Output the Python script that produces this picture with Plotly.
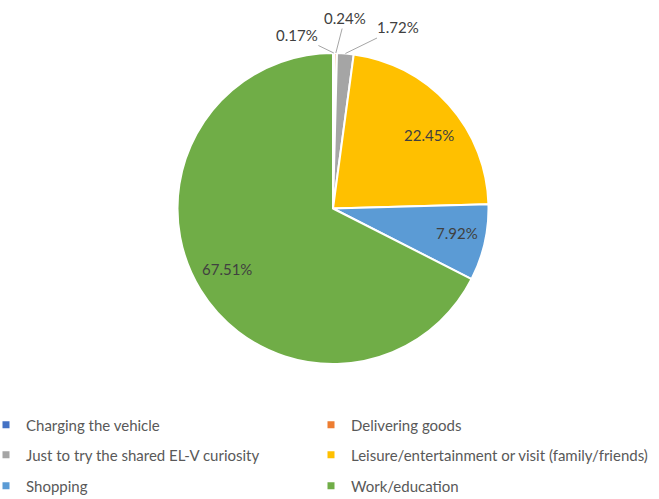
import math
import plotly.graph_objects as go

categories = [
    "Charging the vehicle",
    "Delivering goods",
    "Just to try the shared EL-V curiosity",
    "Leisure/entertainment or visit (family/friends)",
    "Shopping",
    "Work/education",
]
values = [0.17, 0.24, 1.72, 22.45, 7.92, 67.51]
colors = ["#4472C4", "#ED7D31", "#A5A5A5", "#FFC000", "#5B9BD5", "#70AD47"]

# label styling: inside labels placed along (mid-angle + shift) at a fraction of the radius;
# outside labels drawn with leader lines using pixel offsets
label_inside = [False, False, False, True, True, True]
label_radius = [1.0, 1.0, 1.0, 0.776, 0.813, 0.785]
label_angle_shift = [0, 0, 0, 4.6, -1.5, 1.8]
label_offset = [(-37, -18), (9, -35), (53, -26), (0, 0), (0, 0), (0, 0)]

W, H = 659, 499
MB = 100  # bottom margin holding the legend
PH = H - MB  # plot-area height
cx, cy, r = 333, 208.5, 155.5


def px_to_paper(px, py):
    return px / W, (PH - py) / PH


fig = go.Figure()
fig.add_trace(go.Pie(
    labels=categories,
    values=values,
    sort=False,
    direction="clockwise",
    rotation=0,
    marker=dict(colors=colors, line=dict(color="white", width=2)),
    textinfo="none",
    domain=dict(x=[(cx - r) / W, (cx + r) / W],
                y=[(PH - (cy + r)) / PH, (PH - (cy - r)) / PH]),
    showlegend=False,
    hoverinfo="label+percent",
))

# data labels, positioned from the slice angles
total = sum(values)
cum = 0.0
for v, inside, rf, sh, (ox, oy) in zip(values, label_inside, label_radius,
                                       label_angle_shift, label_offset):
    theta = (cum + v / 2) / total * 2 * math.pi + math.radians(sh)
    cum += v
    px = cx + rf * r * math.sin(theta)
    py = cy - rf * r * math.cos(theta)
    x, y = px_to_paper(px, py)
    if inside:
        fig.add_annotation(x=x, y=y, xref="paper", yref="paper", text=f"{v:.2f}%",
                           showarrow=False, xanchor="center", yanchor="middle",
                           font=dict(family="Lato", size=15, color="#404040"))
    else:
        fig.add_annotation(x=x, y=y, xref="paper", yref="paper", text=f"{v:.2f}%",
                           showarrow=True, arrowhead=0, arrowwidth=1,
                           arrowcolor="#A6A6A6", ax=ox, ay=oy, standoff=0,
                           font=dict(family="Lato", size=15, color="#404040"))

# legend: two columns, three rows (one legend box per entry)
row_y = [425, 455, 486]
col_x = [-14, 311]
legend_layout = {}
for i, (cat, col) in enumerate(zip(categories, colors)):
    name = "legend" if i == 0 else f"legend{i + 1}"
    fig.add_trace(go.Scatter(
        x=[None], y=[None], mode="markers", name=cat,
        marker=dict(symbol="square", size=7, color=col),
        legend=name, showlegend=True, hoverinfo="skip",
    ))
    legend_layout[name] = dict(
        orientation="h", xanchor="left", yanchor="middle",
        x=col_x[i % 2] / W, y=(PH - row_y[i // 2]) / PH,
        font=dict(family="Lato", size=15, color="#595959"),
        bgcolor="rgba(0,0,0,0)", itemclick=False, itemdoubleclick=False,
    )

fig.update_layout(
    width=W, height=H,
    margin=dict(l=0, r=0, t=0, b=MB, autoexpand=False),
    paper_bgcolor="white", plot_bgcolor="white",
    xaxis=dict(visible=False), yaxis=dict(visible=False),
    **legend_layout,
)
fig.write_html("out.html")
